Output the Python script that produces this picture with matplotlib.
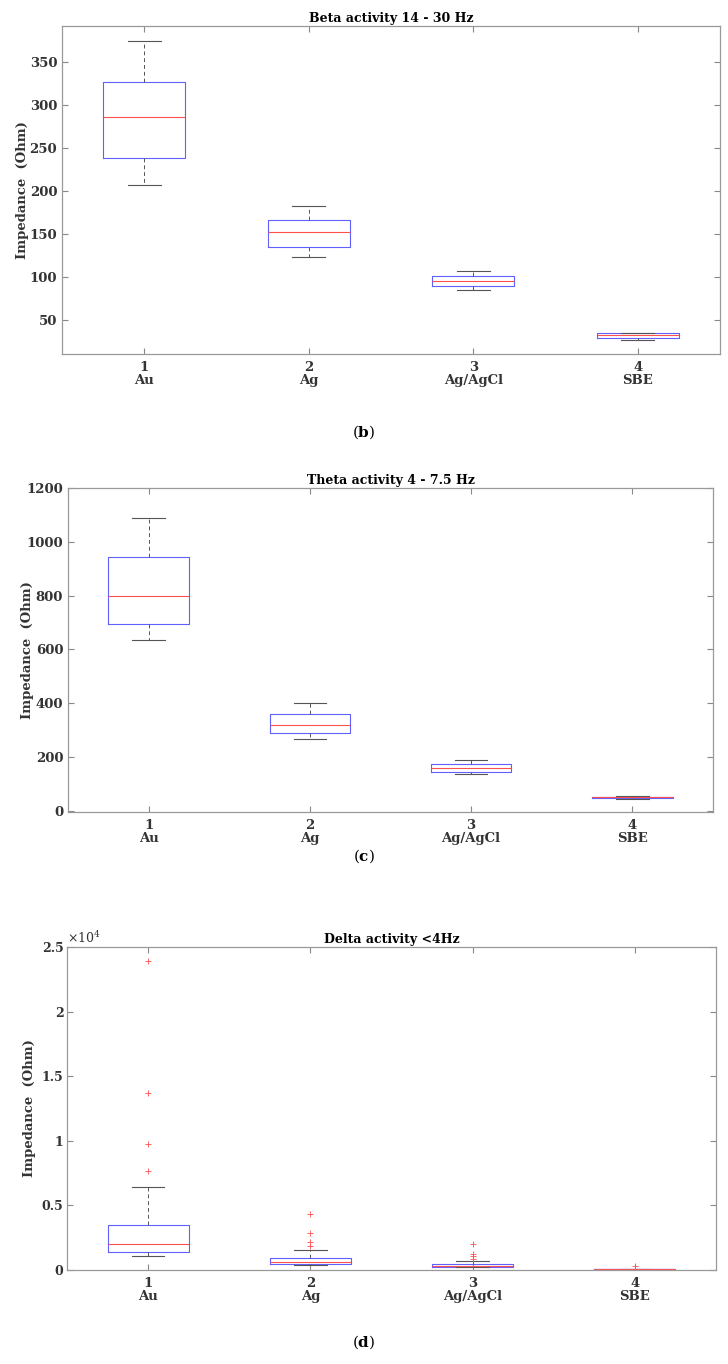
import numpy as np
import matplotlib.pyplot as plt
import matplotlib.ticker as mticker

plt.rcParams['font.family'] = ['DejaVu Serif']
plt.rcParams['mathtext.fontset'] = 'custom'
plt.rcParams['mathtext.rm'] = 'DejaVu Serif'
plt.rcParams['mathtext.bf'] = 'DejaVu Serif:bold'

electrodes = ['Au', 'Ag', 'Ag/AgCl', 'SBE']
xtick_labels = ['%d\n%s' % (i + 1, e) for i, e in enumerate(electrodes)]

# beta 14 - 30 Hz
beta_lo = [206.5, 122.5, 84, 26.6]
beta_q1 = [238, 134, 88.7, 29]
beta_med = [286, 151.6, 95, 31.8]
beta_q3 = [326.7, 165.6, 100.3, 34]
beta_hi = [375, 182, 106.8, 34.8]
beta_out = [[], [], [], []]

# theta 4 - 7.5 Hz
theta_lo = [634, 266, 138, 44]
theta_q1 = [695, 287, 145, 47]
theta_med = [800, 318, 160, 49]
theta_q3 = [942, 358, 174, 51]
theta_hi = [1087, 401, 188, 54]
theta_out = [[], [], [], []]

# delta < 4 Hz
delta_lo = [1083, 412, 206, 30]
delta_q1 = [1392, 464, 232, 45]
delta_med = [1985, 595, 335, 55]
delta_q3 = [3480, 951, 440, 75]
delta_hi = [6396, 1570, 670, 110]
delta_out = [[23920, 13712, 9745, 7700], [4330, 2885, 2190, 1880],
             [1985, 1237, 1083, 876], [330]]

fig = plt.figure(figsize=(7.28, 13.64), dpi=100)

panels = [
    ([0.0852, 0.7405, 0.9038, 0.2405], 'Beta activity 14 - 30 Hz',
     (beta_lo, beta_q1, beta_med, beta_q3, beta_hi, beta_out),
     (10, 392), [50, 100, 150, 200, 250, 300, 350], 'b', 0.683, -0.050),
    ([0.0934, 0.4047, 0.886, 0.2375], 'Theta activity 4 - 7.5 Hz',
     (theta_lo, theta_q1, theta_med, theta_q3, theta_hi, theta_out),
     (-5, 1200), [0, 200, 400, 600, 800, 1000, 1200], 'c', 0.372, -0.053),
    ([0.0920, 0.0689, 0.8915, 0.2368], 'Delta activity <4Hz',
     (delta_lo, delta_q1, delta_med, delta_q3, delta_hi, delta_out),
     (0, 25000), [0, 5000, 10000, 15000, 20000, 25000], 'd', 0.016, -0.048),
]

for rect, title, st, ylim, yticks, tag, cap_y, ylab_x in panels:
    ax = fig.add_axes(rect)
    stats = []
    for i in range(4):
        stats.append(dict(whislo=st[0][i], q1=st[1][i], med=st[2][i],
                          q3=st[3][i], whishi=st[4][i], fliers=st[5][i]))
    ax.bxp(stats, positions=[1, 2, 3, 4], widths=0.5, capwidths=0.2,
           boxprops=dict(color='#6060ff', lw=0.8),
           medianprops=dict(color='#ff5050', lw=0.8),
           whiskerprops=dict(color='#555555', lw=0.7, ls=(0, (4, 3))),
           capprops=dict(color='#555555', lw=0.8),
           flierprops=dict(marker='+', markeredgecolor='#ff5050',
                           markersize=4, markeredgewidth=0.6))
    ax.set_xlim(0.5, 4.5)
    ax.set_ylim(*ylim)
    ax.set_yticks(yticks)
    ax.set_xticks([1, 2, 3, 4])
    ax.set_xticklabels(xtick_labels, fontweight='bold', fontsize=9.5,
                       linespacing=1.0)
    ax.tick_params(direction='in', top=True, right=True, length=4,
                   color='#888888', labelcolor='#333333', labelsize=9.5)
    ax.tick_params(axis='x', pad=5)
    for lab in ax.get_yticklabels():
        lab.set_fontweight('bold')
    for sp in ax.spines.values():
        sp.set_color('#999999')
        sp.set_linewidth(0.9)
    ax.set_title(title, fontweight='bold', fontsize=9, pad=3)
    ax.set_ylabel('Impedance  (Ohm)', fontweight='bold', fontsize=9.5,
                  color='#333333')
    ax.yaxis.set_label_coords(ylab_x, 0.5)
    if tag == 'd':
        ax.yaxis.set_major_formatter(
            mticker.FuncFormatter(lambda v, p: '%g' % (v / 1e4)))
        ax.tick_params(axis='y', labelsize=9, pad=2.5)
        ax.text(0.0, 1.003, r'$\times$10$^4$', transform=ax.transAxes,
                fontsize=9, color='#333333', va='bottom', ha='left')
    fig.text(0.5, cap_y, r'($\mathbf{%s}$)' % tag, ha='center',
             va='center', fontsize=11)

fig.savefig('out.png', dpi=100)
